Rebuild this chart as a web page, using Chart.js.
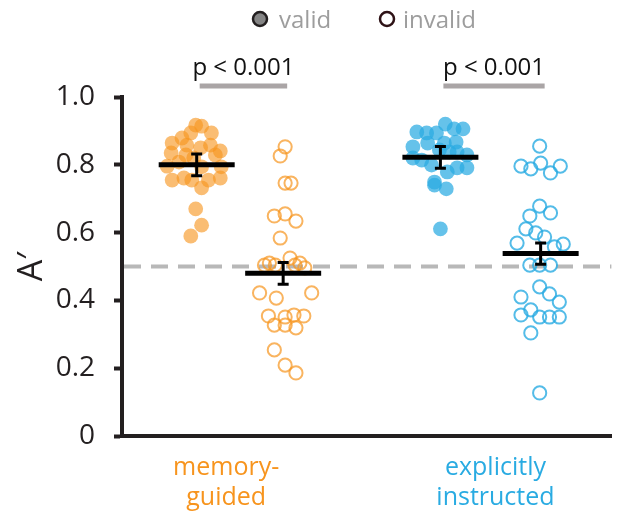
<!DOCTYPE html>
<html>
<head>
<meta charset="utf-8">
<script src="https://cdn.jsdelivr.net/npm/chart.js@4/dist/chart.umd.min.js"></script>
<style>
  html, body { margin: 0; padding: 0; background: #fff; }
  canvas { display: block; }
</style>
</head>
<body>
<canvas id="c" width="620" height="513"></canvas>
<script>
// ---------- data ----------
const categories = [['memory-', 'guided'], ['explicitly', 'instructed']];
const conditions = ['valid', 'invalid'];

// memory-guided, valid cue
const memValidVals   = [0.917,0.914,0.894,0.879,0.894,0.864,0.858,0.858,0.841,0.835,0.850,0.829,0.808,0.829,0.794,0.794,0.755,0.761,0.755,0.755,0.761,0.732,0.670,0.622,0.590,0.820,0.796];
const memValidJitter = [-1,5,15,-15,-6,-25,-10,14,24,-26,4,19,-18,-11,25,5,-25,-13,-5,12,24,5,-1,5,-6,-3,-30];
// memory-guided, invalid cue
const memInvalidVals   = [0.853,0.826,0.746,0.746,0.649,0.655,0.634,0.584,0.510,0.504,0.504,0.525,0.510,0.496,0.504,0.422,0.407,0.422,0.354,0.327,0.351,0.327,0.357,0.354,0.319,0.254,0.209,0.186];
const memInvalidJitter = [2,-3,2,8,-9,2,13,-3,-14,-19,-8,7,17,22,12,-24,-7,29,-15,-9,2,2,11,21,13,-9,2,13];
// explicitly instructed, valid cue
const expValidVals   = [0.920,0.897,0.894,0.894,0.906,0.906,0.853,0.864,0.864,0.867,0.814,0.799,0.820,0.838,0.838,0.829,0.791,0.791,0.779,0.749,0.740,0.729,0.611,0.844];
const expValidJitter = [5,-24,-14,-4,14,23,-28,-13,4,16,-19,-9,-28,9,17,27,27,17,7,-6,-6,6,0,-1];
// explicitly instructed, invalid cue
const expInvalidVals   = [0.855,0.796,0.788,0.805,0.776,0.796,0.678,0.649,0.658,0.611,0.599,0.587,0.569,0.558,0.566,0.504,0.504,0.504,0.440,0.419,0.410,0.395,0.372,0.357,0.351,0.351,0.351,0.304,0.127];
const expInvalidJitter = [-1,-20,-10,0,10,20,-1,-11,10,-15,-5,4,-24,14,23,-11,-1,10,-1,9,-20,19,-10,-20,-1,9,19,-10,-1];

// group summary: mean and SEM
const groupMeans = [0.800, 0.480, 0.822, 0.538];
const groupSems  = [0.032, 0.032, 0.032, 0.031];

const yTickLabels = ['0', '0.2', '0.4', '0.6', '0.8', '1.0'];
const chanceLevel = 0.5;
const pLabels = ['p < 0.001', 'p < 0.001'];

// ---------- layout / style ----------
const groupCenters = [76, 164, 324, 426];   // x-scale units (pixels from axis)
const labelCenters = [106, 380];
const ORANGE = '#f7941d', BLUE = '#29abe2';
const FONT = '"Open Sans", "Noto Sans", sans-serif';

function pts(vals, jit, g) {
  return vals.map((v, i) => ({ x: groupCenters[g] + jit[i], y: v }));
}

const datasets = [
  { label: 'memory valid', data: pts(memValidVals, memValidJitter, 0),
    pointRadius: 7.4, backgroundColor: 'rgba(247,148,29,0.62)', borderWidth: 0 },
  { label: 'memory invalid', data: pts(memInvalidVals, memInvalidJitter, 1),
    pointRadius: 6.6, backgroundColor: 'rgba(0,0,0,0)', borderColor: 'rgba(247,148,29,0.7)', borderWidth: 2 },
  { label: 'explicit valid', data: pts(expValidVals, expValidJitter, 2),
    pointRadius: 7.4, backgroundColor: 'rgba(41,171,226,0.72)', borderWidth: 0 },
  { label: 'explicit invalid', data: pts(expInvalidVals, expInvalidJitter, 3),
    pointRadius: 6.6, backgroundColor: 'rgba(0,0,0,0)', borderColor: 'rgba(41,171,226,0.8)', borderWidth: 2 },
];

const annotations = {
  id: 'annotations',
  beforeDatasetsDraw(chart) {
    const { ctx, chartArea, scales: { y } } = chart;
    const py = y.getPixelForValue(chanceLevel);
    ctx.save();
    ctx.strokeStyle = '#b8b8b8';
    ctx.lineWidth = 4;
    ctx.setLineDash([17, 10]);
    ctx.beginPath();
    ctx.moveTo(chartArea.left + 2, py);
    ctx.lineTo(chartArea.right, py);
    ctx.stroke();
    ctx.restore();
  },
  afterDatasetsDraw(chart) {
    const { ctx, scales: { x, y } } = chart;
    ctx.save();
    // mean lines + SEM error bars
    groupMeans.forEach((m, g) => {
      const cx = x.getPixelForValue(groupCenters[g]);
      const my = y.getPixelForValue(m);
      ctx.strokeStyle = '#000';
      ctx.lineWidth = 5;
      ctx.beginPath();
      ctx.moveTo(cx - 38, my); ctx.lineTo(cx + 38, my);
      ctx.stroke();
      const top = y.getPixelForValue(m + groupSems[g]);
      const bot = y.getPixelForValue(m - groupSems[g]);
      ctx.lineWidth = 3;
      ctx.beginPath();
      ctx.moveTo(cx, top); ctx.lineTo(cx, bot);
      ctx.moveTo(cx - 5.5, top); ctx.lineTo(cx + 5.5, top);
      ctx.moveTo(cx - 5.5, bot); ctx.lineTo(cx + 5.5, bot);
      ctx.stroke();
    });
    // significance labels and bars
    [[0, 1], [2, 3]].forEach((pair, k) => {
      const x1 = x.getPixelForValue(groupCenters[pair[0]]) + 3;
      const x2 = x.getPixelForValue(groupCenters[pair[1]]) + 4;
      ctx.strokeStyle = '#aaa5a6';
      ctx.lineWidth = 5;
      ctx.beginPath();
      ctx.moveTo(x1, 86); ctx.lineTo(x2, 86);
      ctx.stroke();
      ctx.fillStyle = '#111';
      ctx.font = '24px ' + FONT;
      ctx.textAlign = 'center';
      ctx.textBaseline = 'alphabetic';
      ctx.fillText(pLabels[k], (x1 + x2) / 2, 75);
    });
    // legend
    ctx.lineWidth = 2.5;
    ctx.fillStyle = '#858585';
    ctx.strokeStyle = '#231f20';
    ctx.beginPath(); ctx.arc(260, 19, 7, 0, Math.PI * 2); ctx.fill(); ctx.stroke();
    ctx.strokeStyle = '#2e1216';
    ctx.beginPath(); ctx.arc(387, 19, 7, 0, Math.PI * 2); ctx.stroke();
    ctx.fillStyle = '#9d9d9d';
    ctx.font = '24px ' + FONT;
    ctx.textAlign = 'left';
    ctx.textBaseline = 'alphabetic';
    ctx.fillText(conditions[0], 279, 28);
    ctx.fillText(conditions[1], 403, 28);
    ctx.restore();
  }
};

new Chart(document.getElementById('c'), {
  type: 'scatter',
  data: { datasets },
  plugins: [annotations],
  options: {
    responsive: false,
    animation: false,
    devicePixelRatio: 1,
    layout: { padding: { top: 97, left: 0, right: 0, bottom: 0 } },
    plugins: { legend: { display: false }, tooltip: { enabled: false } },
    scales: {
      x: {
        type: 'linear', min: 0, max: 498,
        afterBuildTicks: s => { s.ticks = labelCenters.map(v => ({ value: v })); },
        afterFit: s => { s.height = 77; },
        ticks: {
          autoSkip: false, maxRotation: 0, minRotation: 0, padding: 9,
          callback: (v, i) => categories[i],
          color: c => (c.index === 0 ? ORANGE : BLUE),
          font: { family: FONT, size: 25, lineHeight: 1.2 }
        },
        grid: { display: false },
        border: { display: true, color: '#231f20', width: 4 }
      },
      y: {
        type: 'linear', min: 0, max: 1,
        afterFit: s => { s.width = 122; },
        ticks: {
          stepSize: 0.1, padding: 19, color: '#231f20',
          font: { family: FONT, size: 28 },
          callback: v => {
            const k = Math.round(v * 10);
            return k % 2 === 0 ? yTickLabels[k / 2] : '';
          }
        },
        grid: { display: true, drawOnChartArea: false, drawTicks: true,
                tickLength: 8, tickWidth: 4, tickColor: '#231f20' },
        border: { display: true, color: '#231f20', width: 4 },
        title: { display: true, text: 'A\u2032', color: '#231f20',
                 font: { family: FONT, size: 34 }, padding: { top: 12, bottom: 0 } }
      }
    }
  }
});
</script>
</body>
</html>
